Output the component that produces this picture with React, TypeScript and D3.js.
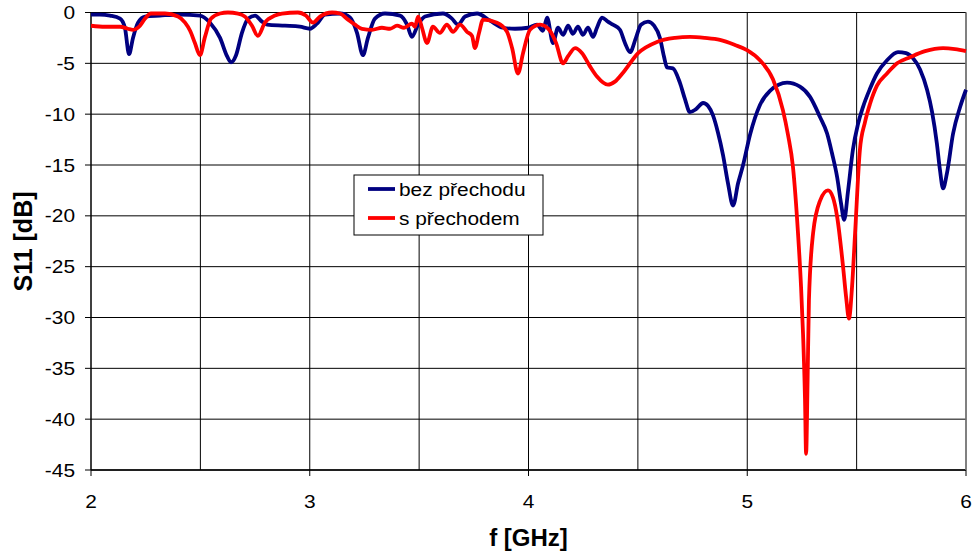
import React from "react";
import * as d3 from "d3";

const xTicks = [2, 3, 4, 5, 6];
const yTicks = [0, -5, -10, -15, -20, -25, -30, -35, -40, -45];
const xGrid = [2.5, 3, 3.5, 4, 4.5, 5, 5.5, 6];
const seriesNames = ["bez přechodu", "s přechodem"];
const seriesColors = ["#000080", "#FF0000"];

const blueF = [2.000,2.041,2.087,2.133,2.155,2.174,2.192,2.215,2.247,2.315,2.407,2.498,2.544,2.590,2.622,2.640,2.663,2.690,2.718,2.750,2.782,2.805,2.887,2.955,3.001,3.033,3.070,3.138,3.184,3.216,3.243,3.266,3.298,3.344,3.413,3.445,3.467,3.495,3.527,3.609,3.650,3.678,3.710,3.765,3.824,3.883,3.938,3.998,4.039,4.066,4.085,4.112,4.135,4.158,4.181,4.203,4.226,4.249,4.272,4.295,4.313,4.336,4.363,4.386,4.418,4.441,4.464,4.491,4.514,4.546,4.574,4.601,4.619,4.633,4.660,4.692,4.715,4.738,4.766,4.798,4.821,4.843,4.866,4.889,4.912,4.935,4.958,4.981,5.013,5.058,5.104,5.182,5.241,5.287,5.333,5.365,5.387,5.411,5.429,5.443,5.461,5.483,5.506,5.529,5.561,5.593,5.639,5.689,5.726,5.758,5.790,5.822,5.845,5.867,5.881,5.895,5.913,5.941,5.973,6.000];
const blueS = [-0.2,-0.2,-0.3,-0.6,-1.5,-4.1,-2.5,-1.0,-0.4,-0.3,-0.2,-0.3,-1.0,-2.5,-4.3,-4.9,-4.2,-2.0,-0.6,-0.3,-0.9,-1.2,-1.3,-1.4,-1.6,-1.1,-0.2,-0.1,-0.5,-2.0,-4.2,-2.5,-0.6,-0.1,-0.3,-1.2,-2.4,-1.2,-0.4,-0.1,-0.6,-1.2,-0.4,-0.1,-0.8,-1.5,-1.6,-1.5,-1.2,-1.8,-0.5,-3.0,-1.5,-2.2,-1.3,-2.1,-1.4,-2.2,-1.5,-2.4,-1.5,-0.5,-0.9,-1.2,-1.7,-3.0,-3.9,-2.5,-1.2,-0.9,-1.3,-2.5,-4.3,-5.4,-5.5,-6.9,-8.5,-9.8,-9.5,-8.9,-9.2,-10.1,-11.8,-14.0,-16.8,-19.0,-16.8,-15.0,-12.0,-9.1,-7.7,-6.9,-7.3,-8.3,-10.3,-11.9,-13.8,-16.2,-18.8,-20.4,-17.5,-13.5,-11.0,-9.3,-7.5,-6.0,-4.7,-3.9,-4.0,-4.5,-5.6,-7.6,-9.8,-12.9,-15.5,-17.3,-15.8,-11.9,-9.3,-7.6];

const redF = [2.000,2.064,2.133,2.169,2.192,2.224,2.247,2.274,2.338,2.398,2.430,2.453,2.475,2.498,2.521,2.549,2.590,2.626,2.672,2.704,2.736,2.763,2.795,2.841,2.873,2.946,2.982,3.015,3.047,3.102,3.138,3.175,3.207,3.239,3.285,3.330,3.367,3.399,3.431,3.467,3.481,3.495,3.513,3.536,3.563,3.595,3.627,3.655,3.687,3.719,3.742,3.755,3.774,3.792,3.856,3.902,3.925,3.952,3.975,4.007,4.053,4.098,4.126,4.158,4.181,4.213,4.245,4.281,4.313,4.363,4.395,4.433,4.501,4.587,4.670,4.738,4.806,4.875,4.944,4.999,5.058,5.118,5.163,5.186,5.209,5.232,5.246,5.255,5.264,5.269,5.276,5.282,5.301,5.333,5.369,5.392,5.411,5.438,5.452,5.465,5.479,5.493,5.515,5.538,5.561,5.593,5.639,5.685,5.744,5.813,5.895,5.950,6.000];
const redS = [-1.3,-1.4,-1.4,-1.6,-1.7,-1.3,-0.6,-0.1,-0.1,-0.4,-1.0,-1.8,-3.0,-4.2,-2.4,-0.6,-0.1,0,-0.1,-0.4,-1.3,-2.3,-1.0,-0.3,-0.1,0,-0.3,-1.0,-0.4,0,-0.1,-0.7,-1.2,-1.6,-1.7,-1.5,-1.6,-1.3,-1.5,-1.1,-1.4,-0.4,-1.5,-3.0,-1.4,-2.0,-1.2,-1.9,-1.2,-1.9,-2.3,-3.5,-2.0,-0.7,-1.0,-1.9,-3.5,-6.0,-4.0,-1.7,-1.2,-1.8,-3.0,-5.0,-4.3,-3.5,-4.0,-5.3,-6.3,-7.1,-6.8,-5.9,-4.0,-2.9,-2.5,-2.4,-2.5,-2.7,-3.2,-3.7,-4.7,-6.6,-9.6,-12.0,-15.2,-21.7,-27.0,-31.6,-38.0,-43.4,-36.0,-28.3,-21.7,-18.5,-17.5,-18.2,-20.1,-25.0,-28.0,-30.1,-27.0,-21.7,-13.5,-10.8,-9.0,-7.2,-6.0,-5.0,-4.4,-3.8,-3.5,-3.6,-3.8];

const W = 974;
const H = 551;
const L = 91, R = 966, T = 12.5, B = 470;
const SX = 1.13;

export default function App() {
  const x = d3.scaleLinear().domain([2, 6]).range([L, R]);
  const y = d3.scaleLinear().domain([-45, 0]).range([B, T]);
  const line = d3
    .line<[number, number]>()
    .x((d) => x(d[0]))
    .y((d) => y(d[1]))
    .curve(d3.curveMonotoneX);
  const blue = blueF.map((f, i) => [f, blueS[i]] as [number, number]);
  const red = redF.map((f, i) => [f, redS[i]] as [number, number]);
  const font = "Arial, 'Liberation Sans', sans-serif";
  return (
    <svg
      width={W}
      height={H}
      style={{ position: "absolute", left: 0, top: 0, background: "#fff" }}
      fontFamily={font}
    >
      <defs>
        <clipPath id="plot">
          <rect x={L} y={T - 4} width={R - L + 4} height={B - T + 8} />
        </clipPath>
      </defs>
      {yTicks.map((t) => (
        <line key={"hy" + t} x1={L} x2={R} y1={y(t)} y2={y(t)} stroke="#000" strokeWidth={1} />
      ))}
      {xGrid.map((t) => (
        <line key={"vx" + t} x1={x(t)} x2={x(t)} y1={T} y2={B} stroke="#000" strokeWidth={1} />
      ))}
      <line x1={L} x2={L} y1={T} y2={B} stroke="#000" strokeWidth={1.5} />
      <line x1={L} x2={R} y1={B} y2={B} stroke="#000" strokeWidth={1.5} />
      <line x1={R} x2={R} y1={T} y2={B} stroke="#808080" strokeWidth={1.5} />
      {yTicks.map((t) => (
        <g key={"yt" + t}>
          <line x1={L - 6} x2={L} y1={y(t)} y2={y(t)} stroke="#000" />
          <g transform={`translate(${L - 16},${y(t)}) scale(${SX},1)`}>
            <text x={0} y={0} dy="0.36em" textAnchor="end" fontSize={18.5}>
              {t}
            </text>
          </g>
        </g>
      ))}
      {xTicks.map((t) => (
        <g key={"xt" + t}>
          <line x1={x(t)} x2={x(t)} y1={B} y2={B + 6} stroke="#000" />
          <g transform={`translate(${x(t)},508) scale(${SX},1)`}>
            <text x={0} y={0} textAnchor="middle" fontSize={18.5}>
              {t}
            </text>
          </g>
        </g>
      ))}
      <g clipPath="url(#plot)">
        <path d={line(blue) || ""} fill="none" stroke={seriesColors[0]} strokeWidth={3.8} strokeLinejoin="round" />
        <path d={line(red) || ""} fill="none" stroke={seriesColors[1]} strokeWidth={3.8} strokeLinejoin="round" />
      </g>
      <text
        transform={`translate(32, 241.5) rotate(-90)`}
        textAnchor="middle"
        fontSize={25}
        fontWeight="bold"
      >
        S11 [dB]
      </text>
      <text x={(L + R) / 2} y={546} textAnchor="middle" fontSize={24} fontWeight="bold">
        f [GHz]
      </text>
      <g>
        <rect x={354} y={175} width={189} height={60} fill="#fff" stroke="#000" strokeWidth={1} />
        {seriesNames.map((n, i) => (
          <g key={n}>
            <line x1={368} x2={395} y1={189 + i * 29} y2={189 + i * 29} stroke={seriesColors[i]} strokeWidth={3.8} />
            <g transform={`translate(399,${189 + i * 29}) scale(${SX},1)`}>
              <text x={0} y={0} dy="0.36em" fontSize={18.5}>
                {n}
              </text>
            </g>
          </g>
        ))}
      </g>
    </svg>
  );
}
